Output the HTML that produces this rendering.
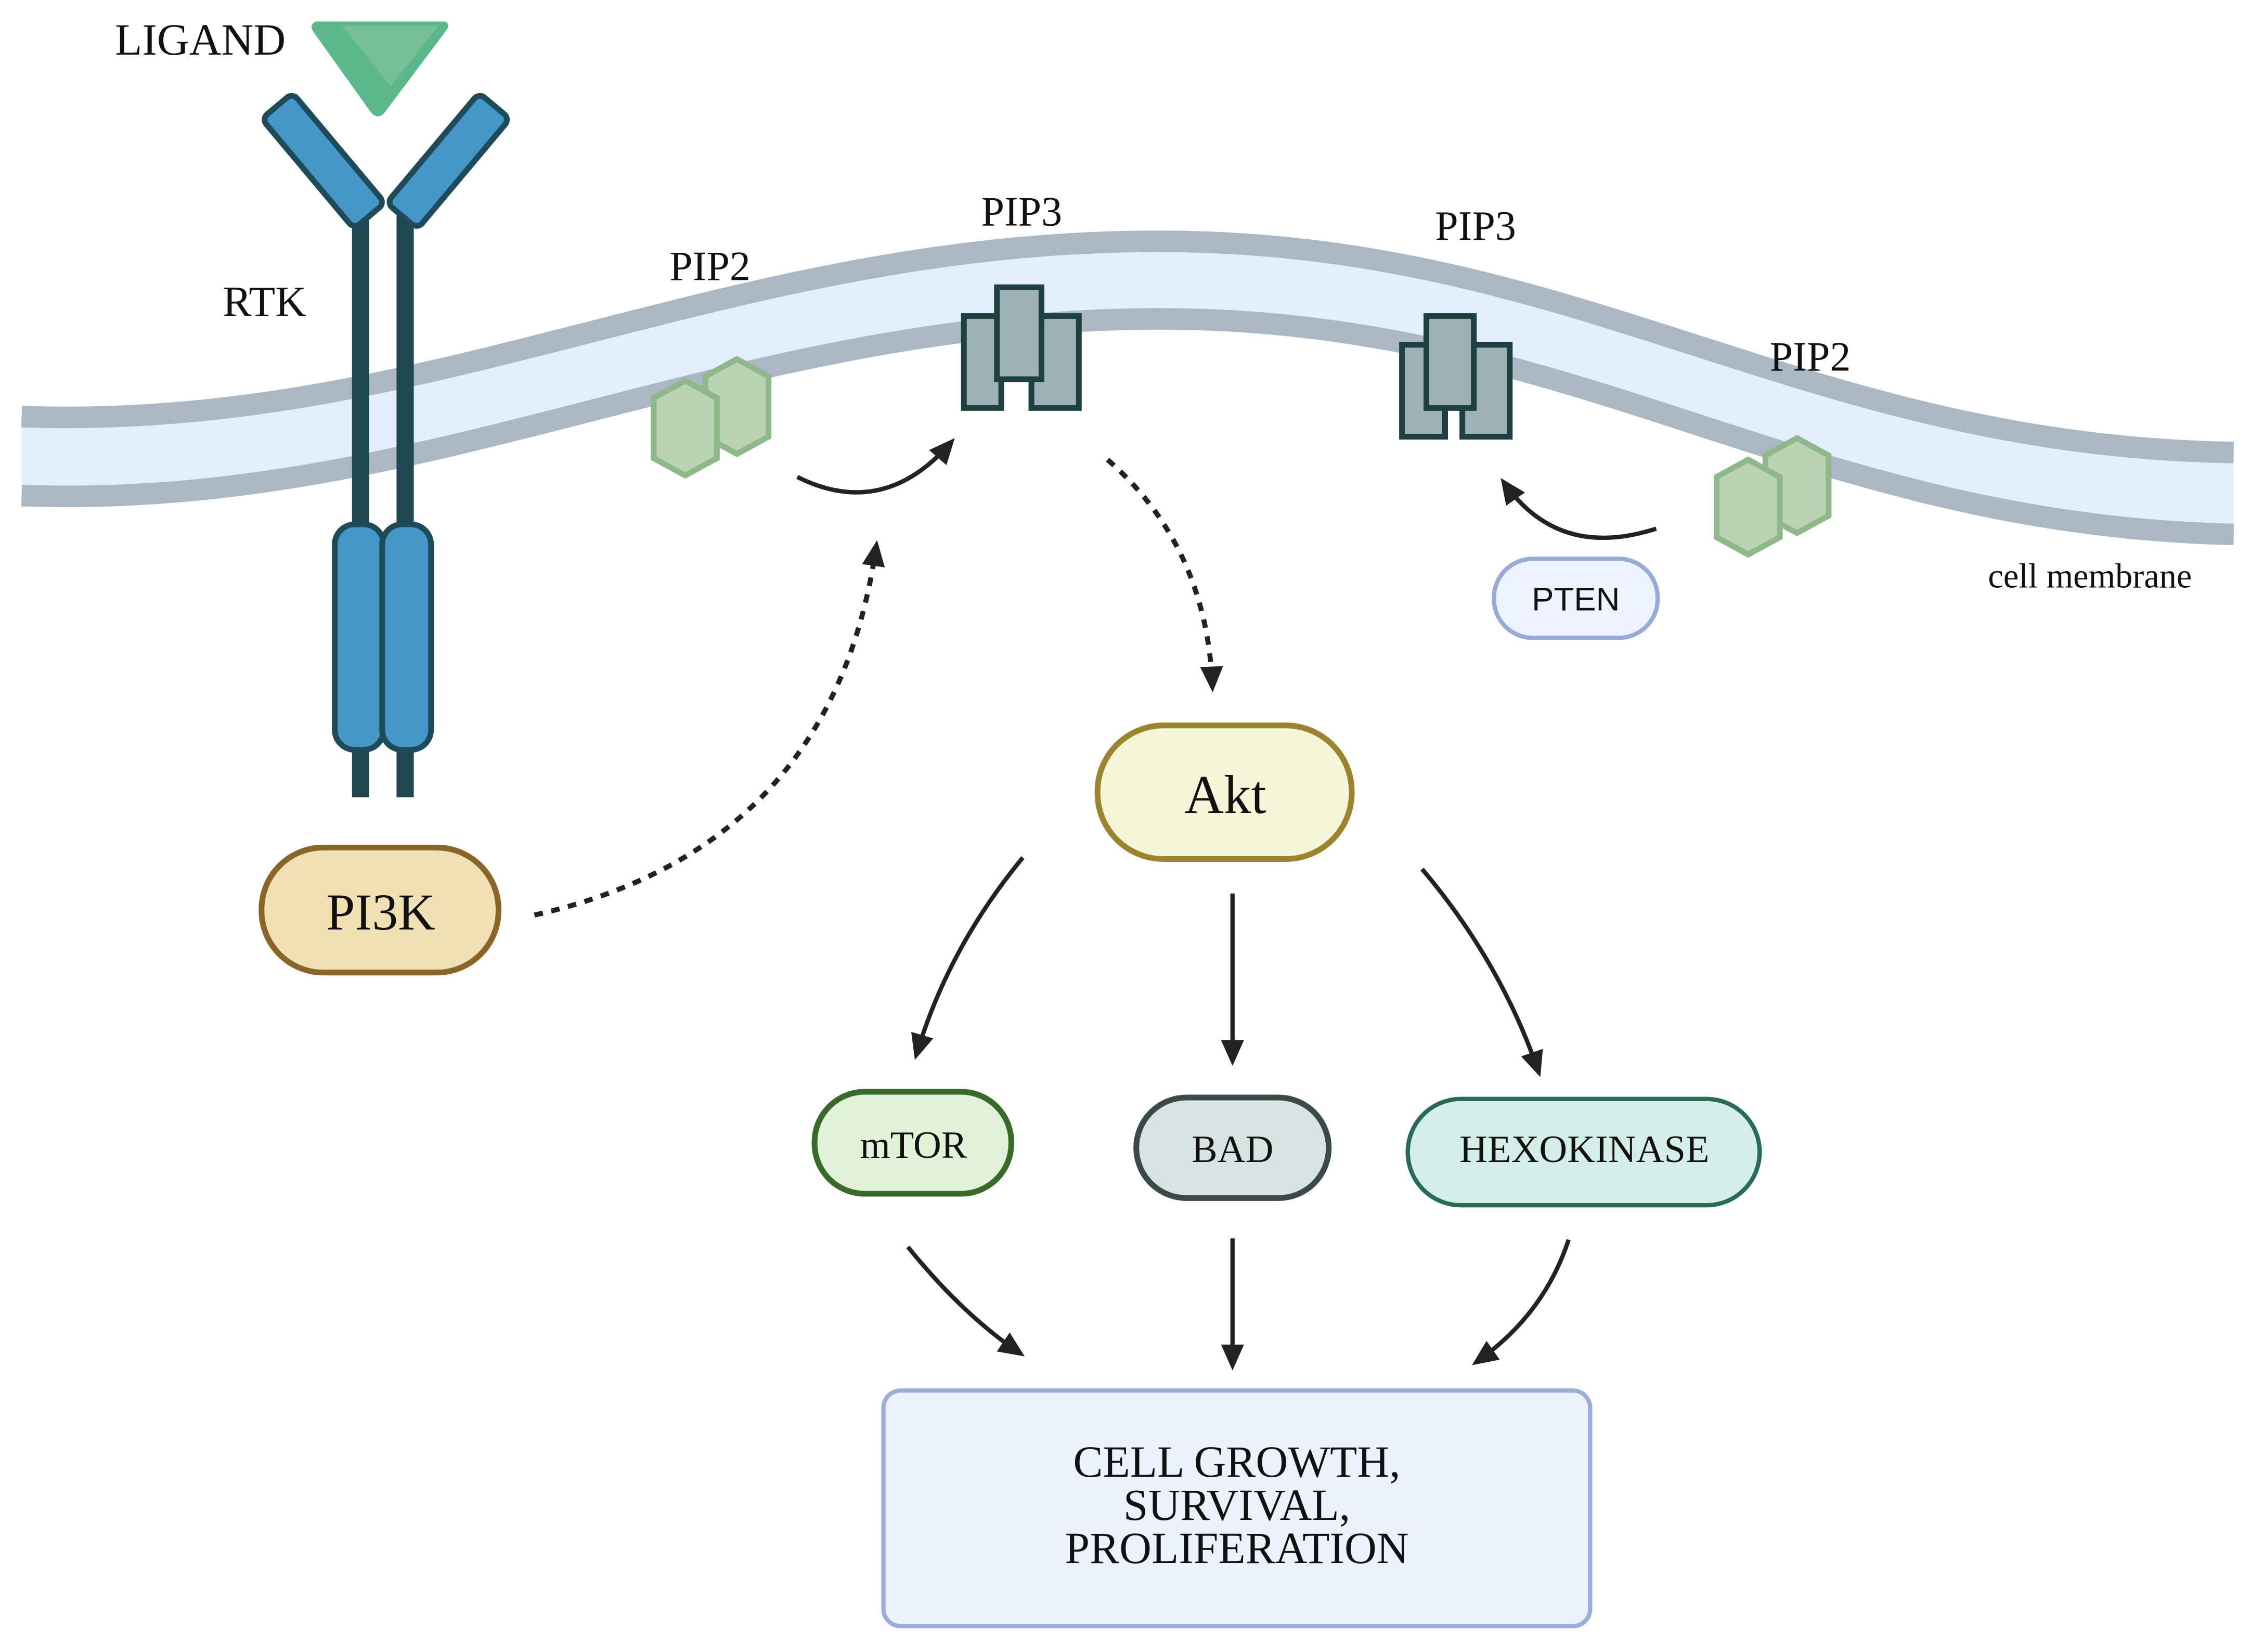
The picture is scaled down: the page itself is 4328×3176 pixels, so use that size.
<!DOCTYPE html>
<html><head><meta charset="utf-8"><style>html,body{margin:0;padding:0;background:#fff}svg{display:block}</style></head>
<body>
<svg width="4328" height="3176" viewBox="0 0 1567 1150" xmlns="http://www.w3.org/2000/svg" font-family="'Liberation Serif', serif">
<defs>
<marker id="ah2" markerWidth="20" markerHeight="20" refX="14" refY="10" orient="auto" markerUnits="userSpaceOnUse" viewBox="0 0 20 20"><path d="M0,2 L18,10 L0,18 z" fill="#222"/></marker>
</defs>
<rect width="1567" height="1150" fill="#fff"/>
<path d="M15,290 C300,300 500,170 800,168 C1100,166 1250,310 1555,315 L1555,372 C1250,365 1100,220 800,222 C500,225 300,355 15,345 Z" fill="#e2f0fd"/>
<path d="M15,290 C300,300 500,170 800,168 C1100,166 1250,310 1555,315" fill="none" stroke="#aab8c4" stroke-width="15"/>
<path d="M15,345 C300,355 500,225 800,222 C1100,220 1250,365 1555,372" fill="none" stroke="#aab8c4" stroke-width="15"/>
<path d="M251,150 L251,555" stroke="#1f474f" stroke-width="12" fill="none"/>
<path d="M282,150 L282,555" stroke="#1f474f" stroke-width="12" fill="none"/>
<rect x="233" y="365" width="34" height="157" rx="14" fill="#4597c8" stroke="#1f4a5a" stroke-width="4"/>
<rect x="266" y="365" width="34" height="157" rx="14" fill="#4597c8" stroke="#1f4a5a" stroke-width="4"/>
<rect x="175" y="98" width="100" height="28" rx="5" transform="rotate(50 225 112)" fill="#4597c8" stroke="#1f4a5a" stroke-width="4"/>
<rect x="262" y="98" width="100" height="28" rx="5" transform="rotate(-50 312 112)" fill="#4597c8" stroke="#1f4a5a" stroke-width="4"/>
<path d="M220,15 L310,15 Q314,17 310,22 L268,78 Q263,84 258,78 L218,22 Q215,17 220,15 Z" fill="#5cb88a"/>
<path d="M238,18 L305,18 L272,60 Z" fill="#82c29f" opacity="0.7"/>
<text x="80" y="38" font-size="31" fill="#111">LIGAND</text>
<text x="155" y="220" font-size="30" fill="#111">RTK</text>
<g fill="#b9d3b3" stroke="#8fb88a" stroke-width="4">
<polygon points="513,250 535,262 535,304 513,316 491,304 491,262"/>
<polygon points="477,265 499,277 499,319 477,331 455,319 455,277"/>
<polygon points="1251,305 1273,317 1273,359 1251,371 1229,359 1229,317"/>
<polygon points="1217,320 1239,332 1239,374 1217,386 1195,374 1195,332"/>
</g>
<g fill="#9cb2b4" stroke="#1f4040" stroke-width="4">
<rect x="671" y="220" width="26" height="64"/>
<rect x="718" y="220" width="33" height="64"/>
<rect x="694" y="200" width="31" height="64"/>
<rect x="976" y="240" width="30" height="64"/>
<rect x="1018" y="240" width="33" height="64"/>
<rect x="993" y="220" width="33" height="64"/>
</g>
<text x="466" y="195" font-size="29" fill="#111">PIP2</text>
<text x="683" y="157" font-size="29" fill="#111">PIP3</text>
<text x="999" y="167" font-size="29" fill="#111">PIP3</text>
<text x="1232" y="258" font-size="29" fill="#111">PIP2</text>
<text x="1384" y="409" font-size="24" fill="#111">cell membrane</text>
<path d="M555,332 Q615,362 662,308" fill="none" stroke="#222" stroke-width="3" marker-end="url(#ah2)"/>
<path d="M1153,368 Q1085,390 1047,336" fill="none" stroke="#222" stroke-width="3" marker-end="url(#ah2)"/>
<path d="M372,637 Q580,590 610,380" fill="none" stroke="#222" stroke-width="3.5" stroke-dasharray="6,6" marker-end="url(#ah2)"/>
<path d="M771,320 Q840,380 844,478" fill="none" stroke="#222" stroke-width="3.5" stroke-dasharray="6,6" marker-end="url(#ah2)"/>
<rect x="1040" y="389" width="114" height="55" rx="27" fill="#eef4ff" stroke="#9aaad8" stroke-width="3"/>
<text x="1097" y="425" font-size="23" font-family="'Liberation Sans',sans-serif" text-anchor="middle" fill="#111">PTEN</text>
<rect x="182" y="590" width="165" height="87" rx="43" fill="#f2e1b4" stroke="#8a652a" stroke-width="4"/>
<text x="265" y="647" font-size="36" text-anchor="middle" fill="#111">PI3K</text>
<rect x="764" y="505" width="177" height="93" rx="46" fill="#f5f5d8" stroke="#9a8430" stroke-width="4"/>
<text x="853" y="566" font-size="38" text-anchor="middle" fill="#111">Akt</text>
<path d="M712,597 Q660,660 638,734" fill="none" stroke="#222" stroke-width="3" marker-end="url(#ah2)"/>
<path d="M858,622 L858,738" fill="none" stroke="#222" stroke-width="3" marker-end="url(#ah2)"/>
<path d="M990,605 Q1045,670 1071,746" fill="none" stroke="#222" stroke-width="3" marker-end="url(#ah2)"/>
<rect x="567" y="760" width="137" height="71" rx="35" fill="#e2f2d8" stroke="#3a6a2a" stroke-width="4"/>
<text x="636" y="806" font-size="27" text-anchor="middle" fill="#111">mTOR</text>
<rect x="791" y="764" width="134" height="70" rx="35" fill="#d8e4e2" stroke="#3a4a48" stroke-width="4"/>
<text x="858" y="809" font-size="27" text-anchor="middle" fill="#111">BAD</text>
<rect x="980" y="765" width="245" height="74" rx="37" fill="#d5eee8" stroke="#2a6a5a" stroke-width="3"/>
<text x="1103" y="809" font-size="27" text-anchor="middle" fill="#111">HEXOKINASE</text>
<path d="M632,868 Q670,915 710,942" fill="none" stroke="#222" stroke-width="3" marker-end="url(#ah2)"/>
<path d="M858,862 L858,950" fill="none" stroke="#222" stroke-width="3" marker-end="url(#ah2)"/>
<path d="M1092,863 Q1075,915 1028,948" fill="none" stroke="#222" stroke-width="3" marker-end="url(#ah2)"/>
<rect x="615" y="968" width="492" height="164" rx="12" fill="#ecf2fc" stroke="#9aaed8" stroke-width="3"/>
<text x="861" y="1028" font-size="31" text-anchor="middle" fill="#111">CELL GROWTH,</text>
<text x="861" y="1058" font-size="31" text-anchor="middle" fill="#111">SURVIVAL,</text>
<text x="861" y="1088" font-size="31" text-anchor="middle" fill="#111">PROLIFERATION</text>
</svg>
</body></html>
